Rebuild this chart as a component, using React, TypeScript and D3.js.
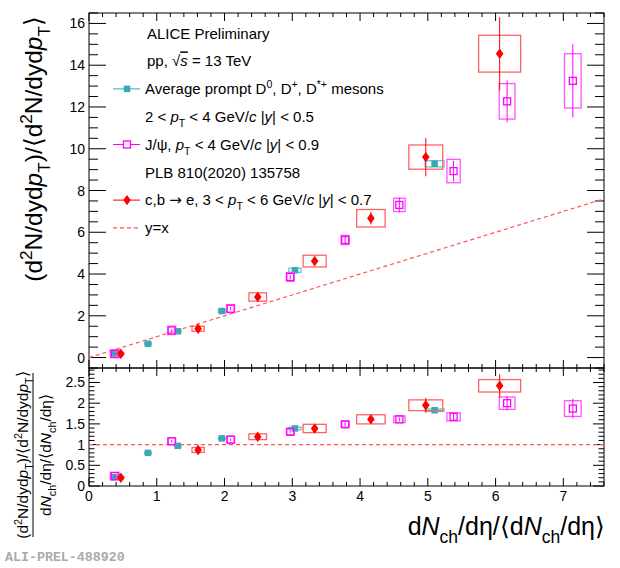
import React from "react";
import * as d3 from "d3";

// ---------- data ----------
// Average prompt D mesons
const dX = [0.37, 0.87, 1.31, 1.96, 3.04, 5.1];
const dY = [0.2, 0.66, 1.26, 2.23, 4.18, 9.28];
const dSysX = [0.05, 0.05, 0.05, 0.05, 0.09, 0.14];
const dSysY = [0.05, 0.05, 0.06, 0.08, 0.1, 0.15];
const dR = [0.21, 0.8, 0.97, 1.15, 1.39, 1.83];
const dSysR = [0.02, 0.02, 0.02, 0.02, 0.03, 0.03];

// J/psi
const jX = [0.38, 1.22, 2.09, 2.97, 3.78, 4.58, 5.38, 6.17, 7.14];
const jY = [0.18, 1.3, 2.34, 3.86, 5.63, 7.31, 8.93, 12.27, 13.25];
const jSysX = [0.065, 0.06, 0.06, 0.057, 0.06, 0.084, 0.098, 0.116, 0.123];
const jSysY = [0.19, 0.2, 0.19, 0.21, 0.22, 0.32, 0.56, 0.85, 1.3];
const jStatY = [0.05, 0.06, 0.08, 0.1, 0.2, 0.36, 0.5, 1.0, 1.75];
const jR = [0.24, 1.08, 1.12, 1.31, 1.49, 1.61, 1.67, 2.0, 1.87];
const jSysR = [0.09, 0.08, 0.08, 0.07, 0.07, 0.08, 0.1, 0.15, 0.19];
const jStatR = [0.03, 0.03, 0.03, 0.03, 0.04, 0.05, 0.07, 0.17, 0.24];

// c,b -> e
const eX = [0.47, 1.61, 2.49, 3.33, 4.16, 4.97, 6.06];
const eY = [0.18, 1.38, 2.9, 4.62, 6.67, 9.6, 14.55];
const eSysX = [0.04, 0.09, 0.13, 0.17, 0.21, 0.25, 0.31];
const eSysY = [0.06, 0.12, 0.2, 0.28, 0.42, 0.58, 0.88];
const eStatY = [0.12, 0.15, 0.18, 0.22, 0.3, 0.92, 1.75];
const eR = [0.2, 0.87, 1.19, 1.39, 1.61, 1.95, 2.42];
const eSysR = [0.03, 0.06, 0.07, 0.1, 0.11, 0.13, 0.15];
const eStatR = [0.06, 0.08, 0.09, 0.1, 0.1, 0.18, 0.28];

// ticks
const xMajor = [0, 1, 2, 3, 4, 5, 6, 7];
const xLabels = ["0", "1", "2", "3", "4", "5", "6", "7"];
const yTopMajor = [0, 2, 4, 6, 8, 10, 12, 14, 16];
const yTopLabels = ["0", "2", "4", "6", "8", "10", "12", "14", "16"];
const yBotMajor = [0, 0.5, 1, 1.5, 2, 2.5];
const yBotLabels = ["0", "0.5", "1", "1.5", "2", "2.5"];

const FONT = "'Liberation Sans', Arial, Helvetica, sans-serif";
const C_D = "#37a9b7";
const C_D_BOX = "#6cc4cf";
const C_J = "#ff00ff";
const C_J_BOX = "#ff55ff";
const C_E = "#ff0000";
const C_E_BOX = "#ff6262";
const C_LINE = "#ff5555";

// ---------- scales ----------
const L = 89, R = 604, T = 13, M = 368, B = 486;
const xS = d3.scaleLinear().domain([0, 7.6]).range([L, R]);
const yTop = d3.scaleLinear().domain([-0.5, 16.5]).range([M, T]);
const yBot = d3.scaleLinear().domain([0, 2.85]).range([B, M]);

type Part = { t: string; it?: boolean; sub?: boolean; sup?: boolean; over?: boolean; ff?: string };

function rich(parts: Part[], fs: number) {
  let cur = 0;
  return parts.map((p, i) => {
    const target = p.sub ? 0.32 * fs : p.sup ? -0.42 * fs : 0;
    const dy = target - cur;
    cur = target;
    return (
      <tspan
        key={i}
        dy={dy}
        fontSize={p.sub || p.sup ? 0.7 * fs : fs}
        fontStyle={p.it ? "italic" : "normal"}
        fontFamily={p.ff}
        textDecoration={p.over ? "overline" : undefined}
      >
        {p.t}
      </tspan>
    );
  });
}

const near = (a: number, arr: number[]) => arr.some((v) => Math.abs(v - a) < 1e-6);

function XTicks({ y, dir, maj, min }: { y: number; dir: number; maj: number; min: number }) {
  const minors = d3.range(0, 7.61, 0.2).filter((v) => !near(Math.round(v * 100) / 100, xMajor));
  return (
    <g stroke="#000" strokeWidth={1}>
      {xMajor.map((v) => (
        <line key={"M" + v} x1={xS(v)} x2={xS(v)} y1={y} y2={y + dir * maj} />
      ))}
      {minors.map((v, i) => (
        <line key={"m" + i} x1={xS(v)} x2={xS(v)} y1={y} y2={y + dir * min} />
      ))}
    </g>
  );
}

function YTicks({ scale, majors, step, lo, hi, maj, min }: any) {
  const minors = d3.range(lo, hi + 1e-6, step).filter((v) => !near(Math.round(v * 100) / 100, majors));
  return (
    <g stroke="#000" strokeWidth={1}>
      {majors.map((v: number) => (
        <g key={"M" + v}>
          <line x1={L} x2={L + maj} y1={scale(v)} y2={scale(v)} />
          <line x1={R} x2={R - maj} y1={scale(v)} y2={scale(v)} />
        </g>
      ))}
      {minors.map((v: number, i: number) => (
        <g key={"m" + i}>
          <line x1={L} x2={L + min} y1={scale(v)} y2={scale(v)} />
          <line x1={R} x2={R - min} y1={scale(v)} y2={scale(v)} />
        </g>
      ))}
    </g>
  );
}

function Boxes({ xs, ys, sx, sy, ysc, color }: any) {
  return (
    <g fill="none" stroke={color} strokeWidth={1.3}>
      {xs.map((x: number, i: number) => (
        <rect
          key={i}
          x={xS(x - sx[i])}
          y={ysc(ys[i] + sy[i])}
          width={xS(x + sx[i]) - xS(x - sx[i])}
          height={ysc(ys[i] - sy[i]) - ysc(ys[i] + sy[i])}
        />
      ))}
    </g>
  );
}

function Stat({ xs, ys, st, ysc, color }: any) {
  return (
    <g stroke={color} strokeWidth={1}>
      {xs.map((x: number, i: number) => (
        <line key={i} x1={xS(x)} x2={xS(x)} y1={ysc(ys[i] - st[i])} y2={ysc(ys[i] + st[i])} />
      ))}
    </g>
  );
}

const sq = (cx: number, cy: number, s: number, key?: any) => (
  <rect key={key} x={cx - s / 2} y={cy - s / 2} width={s} height={s} fill={C_D} />
);
const osq = (cx: number, cy: number, s: number, key?: any) => (
  <rect key={key} x={cx - s / 2} y={cy - s / 2} width={s} height={s} fill="none" stroke={C_J} strokeWidth={1.3} />
);
const dia = (cx: number, cy: number, key?: any) => (
  <path key={key} d={`M${cx},${cy - 5.2}L${cx + 3.8},${cy}L${cx},${cy + 5.2}L${cx - 3.8},${cy}Z`} fill={C_E} />
);

function Panel({ ysc, dy, jy, ey, dsy, jsy, jst, esy, est }: any) {
  return (
    <g>
      <Boxes xs={dX} ys={dy} sx={dSysX} sy={dsy} ysc={ysc} color={C_D_BOX} />
      {dX.map((x, i) => sq(xS(x), ysc(dy[i]), 6.5, i))}
      <Boxes xs={jX} ys={jy} sx={jSysX} sy={jsy} ysc={ysc} color={C_J_BOX} />
      <Stat xs={jX} ys={jy} st={jst} ysc={ysc} color={C_J} />
      {jX.map((x, i) => osq(xS(x), ysc(jy[i]), 7, i))}
      <Boxes xs={eX} ys={ey} sx={eSysX} sy={esy} ysc={ysc} color={C_E_BOX} />
      <Stat xs={eX} ys={ey} st={est} ysc={ysc} color={C_E} />
      {eX.map((x, i) => dia(xS(x), ysc(ey[i]), i))}
    </g>
  );
}

const ARROW_FONT = "'DejaVu Sans', sans-serif";

const legendRows: Part[][] = [
  [{ t: "ALICE Preliminary" }],
  [{ t: "pp, \u221A" }, { t: "s", it: true, over: true }, { t: " = 13 TeV" }],
  [{ t: "Average prompt D" }, { t: "0", sup: true }, { t: ", D" }, { t: "+", sup: true }, { t: ", D" }, { t: "*+", sup: true }, { t: " mesons" }],
  [{ t: "2 < " }, { t: "p", it: true }, { t: "T", sub: true }, { t: " < 4 GeV/" }, { t: "c", it: true }, { t: " |" }, { t: "y", it: true }, { t: "| < 0.5" }],
  [{ t: "J/\u03C8, " }, { t: "p", it: true }, { t: "T", sub: true }, { t: " < 4 GeV/" }, { t: "c", it: true }, { t: " |" }, { t: "y", it: true }, { t: "| < 0.9" }],
  [{ t: "PLB 810(2020) 135758" }],
  [{ t: "c,b " }, { t: "\u2192", ff: ARROW_FONT }, { t: " e, 3 < " }, { t: "p", it: true }, { t: "T", sub: true }, { t: " < 6 GeV/" }, { t: "c", it: true }, { t: " |" }, { t: "y", it: true }, { t: "| < 0.7" }],
  [{ t: "y=x" }],
];

const yTitle: Part[] = [
  { t: "(d" }, { t: "2", sup: true }, { t: "N/dyd" }, { t: "p", it: true }, { t: "T", sub: true },
  { t: ")/\u27E8d" }, { t: "2", sup: true }, { t: "N/dyd" }, { t: "p", it: true }, { t: "T", sub: true }, { t: "\u27E9" },
];
const xTitle: Part[] = [
  { t: "d" }, { t: "N", it: true }, { t: "ch", sub: true }, { t: "/d\u03B7/\u27E8d" }, { t: "N", it: true }, { t: "ch", sub: true }, { t: "/d\u03B7\u27E9" },
];

export default function App() {
  const legTop = 33.3, legStep = 27.8;
  const rowY = (i: number) => legTop + i * legStep;
  return (
    <svg width={620} height={568} style={{ position: "absolute", left: 0, top: 0 }} fontFamily={FONT}>
      <rect width={620} height={568} fill="#fff" />
      {/* frames */}
      <rect x={L} y={T} width={R - L} height={M - T} fill="none" stroke="#000" strokeWidth={1} />
      <rect x={L} y={M} width={R - L} height={B - M} fill="none" stroke="#000" strokeWidth={1} />
      {/* ticks */}
      <YTicks scale={yTop} majors={yTopMajor} step={0.5} lo={-0.5} hi={16.5} maj={17} min={9} />
      <YTicks scale={yBot} majors={yBotMajor} step={0.1} lo={0} hi={2.85} maj={11} min={5.5} />
      <XTicks y={T} dir={1} maj={8} min={4} />
      <XTicks y={M} dir={-1} maj={8} min={4} />
      <XTicks y={M} dir={1} maj={8} min={4} />
      <XTicks y={B} dir={-1} maj={8} min={4} />
      {/* tick labels */}
      <g fontSize={14} textAnchor="end" fill="#000">
        {yTopMajor.map((v, i) => (
          <text key={i} x={85} y={yTop(v) + 5}>{yTopLabels[i]}</text>
        ))}
        {yBotMajor.map((v, i) => (
          <text key={i} x={85} y={yBot(v) + 5}>{yBotLabels[i]}</text>
        ))}
      </g>
      <g fontSize={14} textAnchor="middle">
        {xMajor.map((v, i) => (
          <text key={i} x={xS(v)} y={501}>{xLabels[i]}</text>
        ))}
      </g>
      {/* reference lines */}
      <line x1={xS(0)} y1={yTop(0)} x2={xS(7.6)} y2={yTop(7.6)} stroke={C_LINE} strokeWidth={1.2} strokeDasharray="4,3" />
      <line x1={xS(0)} y1={yBot(1)} x2={xS(7.6)} y2={yBot(1)} stroke={C_LINE} strokeWidth={1.2} strokeDasharray="4,3" />
      {/* data */}
      <Panel ysc={yTop} dy={dY} jy={jY} ey={eY} dsy={dSysY} jsy={jSysY} jst={jStatY} esy={eSysY} est={eStatY} />
      <Panel ysc={yBot} dy={dR} jy={jR} ey={eR} dsy={dSysR} jsy={jSysR} jst={jStatR} esy={eSysR} est={eStatR} />
      {/* legend */}
      <g fontSize={15}>
        {legendRows.map((parts, i) => (
          <text key={i} x={i < 2 ? 147 : 145} y={rowY(i) + 5.3}>{rich(parts, 15)}</text>
        ))}
      </g>
      <line x1={113} x2={140} y1={rowY(2)} y2={rowY(2)} stroke={C_D} strokeWidth={1} />
      {sq(127, rowY(2), 6.5)}
      <line x1={113} x2={140} y1={rowY(4)} y2={rowY(4)} stroke={C_J} strokeWidth={1} />
      <rect x={127 - 3.5} y={rowY(4) - 3.5} width={7} height={7} fill="#fff" stroke={C_J} strokeWidth={1.3} />
      <line x1={113} x2={140} y1={rowY(6)} y2={rowY(6)} stroke={C_E} strokeWidth={1} />
      {dia(127, rowY(6))}
      <line x1={113} x2={140} y1={rowY(7)} y2={rowY(7)} stroke={C_LINE} strokeWidth={1.2} strokeDasharray="4,3" />
      {/* axis titles */}
      <text transform="translate(42,16) rotate(-90)" textAnchor="end" fontSize={24.5}>{rich(yTitle, 24.5)}</text>
      <text x={605} y={535} textAnchor="end" fontSize={25}>{rich(xTitle, 25)}</text>
      <text transform="translate(28,455) rotate(-90)" textAnchor="middle" fontSize={15.5}>{rich(yTitle, 15.5)}</text>
      <line x1={33} x2={33} y1={373} y2={537} stroke="#000" strokeWidth={1} />
      <text transform="translate(51,455) rotate(-90)" textAnchor="middle" fontSize={15.5}>{rich(xTitle, 15.5)}</text>
      <text x={5} y={561} fontSize={13.3} fontFamily="'Liberation Mono', 'DejaVu Sans Mono', monospace" fontWeight="bold" fill="#aaa">
        ALI-PREL-488920
      </text>
    </svg>
  );
}
